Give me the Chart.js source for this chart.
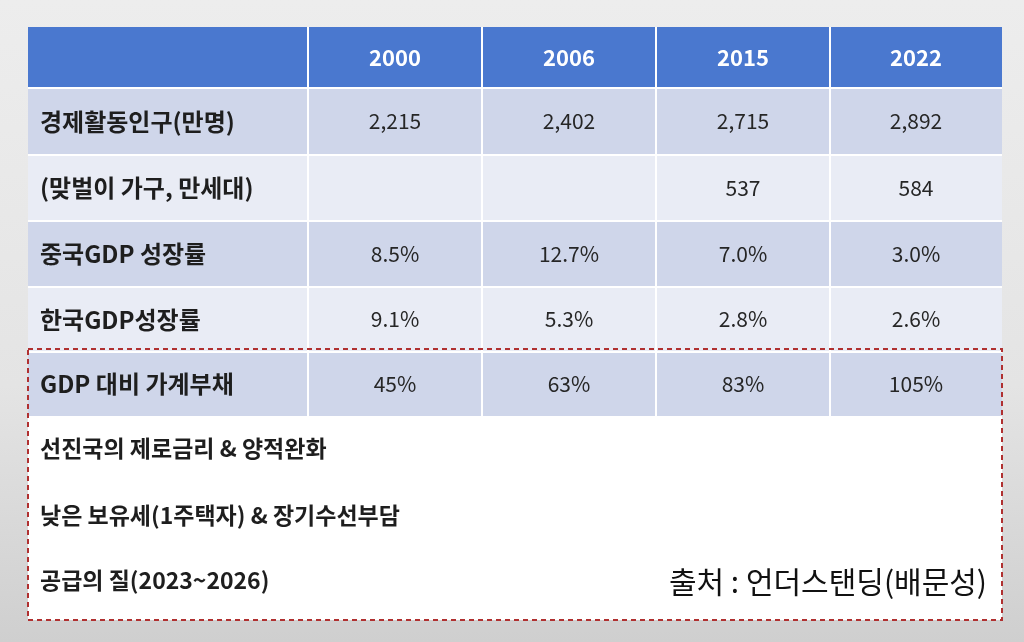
<!DOCTYPE html>
<html><head><meta charset="utf-8">
<script src="https://cdn.jsdelivr.net/npm/chart.js@4"></script>
<style>html,body{margin:0;padding:0;background:#e6e6e6}canvas{display:block}</style>
</head><body>
<div style="width:1024px;height:642px"><canvas id="c"></canvas></div>
<script>
// table content
var years = ['2000', '2006', '2015', '2022'];
var rowLabels = ['경제활동인구(만명)', '(맞벌이 가구, 만세대)', '중국GDP 성장률', '한국GDP성장률', 'GDP 대비 가계부채'];
var population = ['2,215', '2,402', '2,715', '2,892'];
var dualIncome = ['', '', '537', '584'];
var chinaGdp = ['8.5%', '12.7%', '7.0%', '3.0%'];
var koreaGdp = ['9.1%', '5.3%', '2.8%', '2.6%'];
var householdDebt = ['45%', '63%', '83%', '105%'];
var notes = ['선진국의 제로금리 & 양적완화', '낮은 보유세(1주택자) & 장기수선부담', '공급의 질(2023~2026)'];
var sourceText = '출처 : 언더스탠딩(배문성)';

var rows = [population, dualIncome, chinaGdp, koreaGdp, householdDebt];

// layout (in scale units = px)
var colEdges = [28, 308, 482, 656, 830, 1002];
var rowEdges = [27, 88, 155, 221, 287, 352, 416];
var rowFills = ['#cfd6ea', '#e9ecf5', '#cfd6ea', '#e9ecf5', '#cfd6ea'];
var FONT = '"Noto Sans CJK KR", "Noto Sans", sans-serif';

var tablePlugin = {
  id: 'table',
  beforeDraw: function (chart) {
    var ctx = chart.ctx, xs = chart.scales.x, ys = chart.scales.y;
    var X = function (v) { return xs.getPixelForValue(v); };
    var Y = function (v) { return ys.getPixelForValue(v); };
    var g = ctx.createLinearGradient(0, 0, 0, chart.height);
    g.addColorStop(0, '#ededed'); g.addColorStop(0.6, '#e4e4e4'); g.addColorStop(1, '#cfcfcf');
    ctx.fillStyle = g; ctx.fillRect(0, 0, chart.width, chart.height);
    ctx.fillStyle = '#ffffff';
    ctx.fillRect(X(28), Y(416), X(1002) - X(28), Y(620) - Y(416));
    ctx.fillStyle = '#4a78cf';
    ctx.fillRect(X(28), Y(27), X(1002) - X(28), Y(88) - Y(27));
    for (var r = 0; r < rows.length; r++) {
      ctx.fillStyle = rowFills[r];
      ctx.fillRect(X(28), Y(rowEdges[r + 1]), X(1002) - X(28), Y(rowEdges[r + 2]) - Y(rowEdges[r + 1]));
    }
    ctx.strokeStyle = '#ffffff'; ctx.lineWidth = 2;
    for (var c = 1; c < colEdges.length - 1; c++) {
      ctx.beginPath(); ctx.moveTo(X(colEdges[c]), Y(27)); ctx.lineTo(X(colEdges[c]), Y(416)); ctx.stroke();
    }
    for (var k = 1; k < rowEdges.length - 1; k++) {
      ctx.beginPath(); ctx.moveTo(X(28), Y(rowEdges[k])); ctx.lineTo(X(1002), Y(rowEdges[k])); ctx.stroke();
    }
    ctx.textBaseline = 'middle'; ctx.textAlign = 'center';
    ctx.fillStyle = '#ffffff'; ctx.font = 'bold 22px ' + FONT;
    years.forEach(function (yr, i) {
      ctx.fillText(yr, (X(colEdges[i + 1]) + X(colEdges[i + 2])) / 2, (Y(27) + Y(88)) / 2);
    });
    for (var r2 = 0; r2 < rows.length; r2++) {
      var cy = (Y(rowEdges[r2 + 1]) + Y(rowEdges[r2 + 2])) / 2;
      ctx.textAlign = 'left'; ctx.fillStyle = '#1e1e1e'; ctx.font = 'bold 24px ' + FONT;
      ctx.fillText(rowLabels[r2], X(40), cy);
      ctx.textAlign = 'center'; ctx.font = '21px ' + FONT; ctx.fillStyle = '#262626';
      rows[r2].forEach(function (v, i) {
        ctx.fillText(v, (X(colEdges[i + 1]) + X(colEdges[i + 2])) / 2, cy);
      });
    }
    ctx.textAlign = 'left'; ctx.fillStyle = '#1e1e1e';
    var noteY = [448, 515, 580];
    notes.forEach(function (t, i) {
      ctx.font = 'bold 23px ' + FONT;
      ctx.fillText(t, X(40), Y(noteY[i]));
    });
    ctx.textAlign = 'right'; ctx.font = '30px ' + FONT; ctx.fillStyle = '#111111';
    ctx.fillText(sourceText, X(987), Y(582));
    ctx.strokeStyle = '#b03030'; ctx.lineWidth = 2; ctx.setLineDash([5, 4]);
    ctx.strokeRect(X(28), Y(349), X(1002) - X(28), Y(620) - Y(349));
    ctx.setLineDash([]);
  }
};

new Chart(document.getElementById('c'), {
  type: 'scatter',
  data: { datasets: [{ data: [] }] },
  options: {
    responsive: true, maintainAspectRatio: false, animation: false,
    layout: { padding: 0 },
    plugins: { legend: { display: false }, tooltip: { enabled: false } },
    scales: {
      x: { type: 'linear', min: 0, max: 1024, display: false },
      y: { type: 'linear', min: 0, max: 642, reverse: true, display: false }
    }
  },
  plugins: [tablePlugin]
});
</script>
</body></html>
